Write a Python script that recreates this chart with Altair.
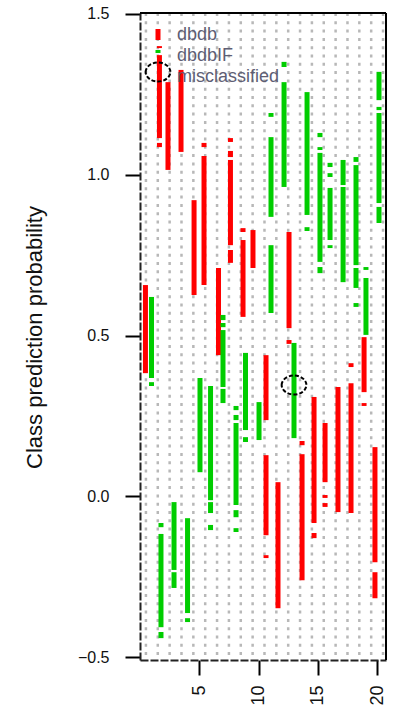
import altair as alt
import pandas as pd

# ---- data ----
samples_ticks = [5, 10, 15, 20]
y_ticks = [-0.5, 0.0, 0.5, 1.0, 1.5]

# x position (jittered sample position) of each dbdb strip
dbdb_x = [0.46, 1.64, 2.36, 3.46, 4.56, 5.40, 6.62, 7.63, 8.69, 9.53,
          10.63, 11.64, 12.57, 13.67, 14.68, 15.61, 16.70, 17.80, 18.90, 19.82]
# runs of points (top, bottom) in each dbdb strip
dbdb_runs = [
    [(0.657, 0.383)],
    [(1.400, 1.394), (1.372, 1.114), (1.099, 1.086)],
    [(1.288, 1.015)],
    [(1.326, 1.071)],
    [(0.921, 0.626)],
    [(1.099, 1.086), (1.058, 0.657)],
    [(0.710, 0.439)],
    [(1.114, 1.102), (1.074, 1.055), (1.046, 0.781), (0.766, 0.726)],
    [(0.834, 0.822), (0.797, 0.558)],
    [(0.828, 0.710)],
    [(0.439, 0.237), (0.128, -0.121), (-0.183, -0.192)],
    [(0.044, -0.348)],
    [(0.822, 0.523), (0.486, 0.474)],
    [(0.172, 0.159), (0.131, -0.261)],
    [(0.309, -0.083), (-0.114, -0.130)],
    [(0.228, 0.044), (0.004, -0.005), (-0.021, -0.033)],
    [(0.340, -0.049)],
    [(0.414, 0.402), (0.352, -0.052)],
    [(0.495, 0.324), (0.290, 0.281)],
    [(0.153, -0.205), (-0.236, -0.317)],
]

dbdbIF_x = [0.97, 1.77, 2.87, 4.01, 5.06, 5.95, 7.00, 8.10, 8.90, 10.04,
            11.05, 12.15, 12.99, 14.09, 15.18, 16.03, 17.13, 18.22, 19.06, 20.16]
dbdbIF_runs = [
    [(0.620, 0.368), (0.355, 0.343)],
    [(-0.083, -0.096), (-0.117, -0.407), (-0.422, -0.441)],
    [(-0.018, -0.229), (-0.236, -0.285)],
    [(-0.068, -0.363), (-0.379, -0.391)],
    [(0.368, 0.075)],
    [(0.343, -0.012), (-0.018, -0.052), (-0.089, -0.105)],
    [(0.564, 0.548), (0.539, 0.526), (0.517, 0.340), (0.334, 0.290)],
    [(0.281, 0.268), (0.253, 0.237), (0.228, -0.027), (-0.043, -0.065), (-0.099, -0.111)],
    [(0.446, 0.206), (0.184, 0.169)],
    [(0.293, 0.175)],
    [(1.192, 1.180), (1.117, 0.869), (0.781, 0.570)],
    [(1.351, 1.335), (1.288, 0.962)],
    [(0.477, 0.181)],
    [(1.257, 0.875), (0.837, 0.825)],
    [(1.130, 1.117), (1.086, 1.077), (1.068, 0.729), (0.713, 0.694)],
    [(1.037, 1.024), (1.005, 0.993), (0.959, 0.797), (0.781, 0.772)],
    [(1.046, 0.968), (0.962, 0.666)],
    [(1.055, 1.040), (1.030, 0.719), (0.710, 0.648), (0.601, 0.589)],
    [(0.713, 0.704), (0.679, 0.502)],
    [(1.320, 1.232), (1.211, 1.201), (1.192, 0.912), (0.900, 0.850)],
]

misclassified_x = [12.99]
misclassified_y = [0.346]

classes = ["dbdb", "dbdbIF"]
class_colors = ["#FF0000", "#00CD00"]
legend_labels = ["dbdb", "dbdbIF", "misclassified"]

# ---- build tables ----
rows = []
for cls, xs_, runs in (("dbdb", dbdb_x, dbdb_runs), ("dbdbIF", dbdbIF_x, dbdbIF_runs)):
    for xv, strip in zip(xs_, runs):
        for hi, lo in strip:
            rows.append({"cls": cls, "x": xv, "hi": hi, "lo": lo})
seg_df = pd.DataFrame(rows)
mis_df = pd.DataFrame({"x": misclassified_x, "hi": misclassified_y})
grid_df = pd.DataFrame({"x": [i + 0.5 for i in range(21)]})
one = pd.DataFrame({"a": [0]})

W, H = 246, 647
FONT = "Liberation Sans"
xs = alt.Scale(domain=[0, 20.75], nice=False, zero=False)
ys = alt.Scale(domain=[-0.509, 1.503], nice=False, zero=False)

x_axis = alt.Axis(values=samples_ticks, labelAngle=270, tickSize=15, tickWidth=2,
                  tickColor="black", labelPadding=10, labelFontSize=18, labelFont=FONT,
                  labelColor="#111111", domainColor="#222222", domainWidth=2,
                  domainDash=[8, 2], grid=False, title=None, labelFlush=False,
                  labelOverlap=False)
y_axis = alt.Axis(values=y_ticks, format=".1f", tickSize=15, tickWidth=2, tickColor="black",
                  labelPadding=16, labelFontSize=16, labelFont=FONT, labelColor="#111111",
                  domainColor="#222222", domainWidth=2, domainDash=[8, 2], grid=False,
                  title="Class prediction probability", titleFont=FONT, titleFontSize=22,
                  titleFontWeight="normal", titleColor="#111111", titleAngle=270,
                  titleX=-106, titleY=324, titleAlign="center", titleBaseline="middle",
                  labelOverlap=False)

grid = alt.Chart(grid_df).mark_rule(color="#b8b8b8", strokeWidth=2.5, strokeDash=[3, 5.3]).encode(
    x=alt.X("x:Q", scale=xs, axis=x_axis),
    y=alt.value(0), y2=alt.value(H))

strips = alt.Chart(seg_df).mark_rule(strokeWidth=5, strokeCap="butt").encode(
    x=alt.X("x:Q", scale=xs, axis=x_axis),
    y=alt.Y("hi:Q", scale=ys, axis=y_axis),
    y2="lo:Q",
    color=alt.Color("cls:N", scale=alt.Scale(domain=classes, range=class_colors), legend=None))

ellipse = "M -1.3 0 A 1.3 1 0 1 1 1.3 0 A 1.3 1 0 1 1 -1.3 0 Z"
mis = alt.Chart(mis_df).mark_point(shape=ellipse, size=361, filled=False, color="black",
                                   opacity=1, strokeWidth=2, strokeDash=[4, 2]).encode(
    x=alt.X("x:Q", scale=xs, axis=x_axis),
    y=alt.Y("hi:Q", scale=ys, axis=y_axis))

top_border = alt.Chart(one).mark_rule(color="black", strokeWidth=2).encode(
    x=alt.value(0), x2=alt.value(W), y=alt.value(0))
right_border = alt.Chart(one).mark_rule(color="black", strokeWidth=2).encode(
    x=alt.value(W), y=alt.value(0), y2=alt.value(H))

# legend (top-left inside the plot)
leg_red = alt.Chart(one).mark_rule(color=class_colors[0], strokeWidth=5).encode(
    x=alt.value(18), y=alt.value(16), y2=alt.value(27))
leg_green = alt.Chart(one).mark_rule(color=class_colors[1], strokeWidth=5).encode(
    x=alt.value(18), y=alt.value(37), y2=alt.value(40))
leg_circ = alt.Chart(one).mark_point(shape=ellipse, size=361, filled=False, color="black",
                                     opacity=1, strokeWidth=2, strokeDash=[4, 2]).encode(
    x=alt.value(18), y=alt.value(59))
leg_texts = [
    alt.Chart(one).mark_text(text=lab, align="left", baseline="middle", font=FONT,
                             fontSize=18, color="#5e5e74").encode(
        x=alt.value(37), y=alt.value(yy))
    for lab, yy in zip(legend_labels, [22, 43, 64])
]

chart = alt.layer(grid, strips, mis, top_border, right_border,
                  leg_red, leg_green, leg_circ, *leg_texts).properties(
    width=W, height=H,
    padding={"left": 140, "top": 13, "right": 9, "bottom": 51},
    autosize=alt.AutoSizeParams(type="none"),
    background="white",
).configure_view(stroke="transparent")

chart.save("out.html", embed_options={"renderer": "svg", "actions": False})
